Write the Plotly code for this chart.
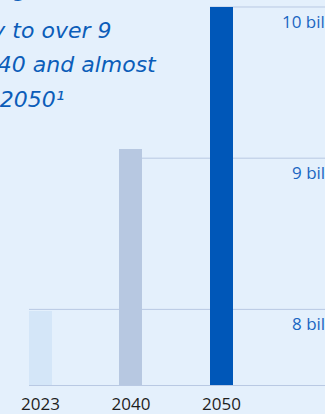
import plotly.graph_objects as go

# ---- data ----
years = ["2023", "2040", "2050"]
population_bn = [7.99, 9.06, 10.0]
gridline_values = [8, 9, 10]
gridline_labels = ["8 billion", "9 billion", "10 billion"]
gridline_start_year = ["2023", "2040", "2050"]
headline_lines = [
    "The world population is projected to grow from 8",
    "billion today to over 9",
    "billion by 2040 and almost",
    "10 billion by 2050¹",
]

# ---- style ----
W, H = 325, 414
ML, MR, MT, MB = 29, 0, 0, 29
BG = "#E4F0FC"
GRID = "#B9C9E3"
BAR_COLORS = ["#D4E6F8", "#B7C8E1", "#0057B8"]
TEXT_BLUE = "#0B5DB9"
LABEL_BLUE = "#1A66C2"
BAR_W = 0.254
X_RANGE = [-0.127, 3.144]
Y_RANGE = [7.5, 10.0463]


def px_x(x):
    return (x - ML) / (W - ML - MR)


def px_y(y):
    return (H - MB - y) / (H - MB - MT)


xpos = list(range(len(years)))

fig = go.Figure()
fig.add_trace(go.Bar(
    x=xpos, y=population_bn, width=BAR_W,
    marker=dict(color=BAR_COLORS, line=dict(width=0)),
    hoverinfo="skip",
))

# partial gridlines starting at the bar that reaches them
for val, yr in zip(gridline_values, gridline_start_year):
    i = years.index(yr)
    fig.add_shape(type="line", xref="x", yref="y",
                  x0=i - BAR_W / 2, x1=X_RANGE[1], y0=val, y1=val,
                  line=dict(color=GRID, width=1), layer="below")

# right-hand value labels (clipped at the edge)
for val, lab in zip(gridline_values, gridline_labels):
    fig.add_annotation(xref="paper", yref="y", x=px_x(355.5), y=val,
                       xanchor="right", yanchor="top", yshift=-1,
                       text=lab, showarrow=False,
                       font=dict(family="Open Sans", size=17, color=LABEL_BLUE))

# headline text, clipped at the left edge
line_ends = [150, 113, 159, 67]
line_centers = [-10.5, 30.3, 65, 99.7]
for txt, xe, yc in zip(headline_lines, line_ends, line_centers):
    fig.add_annotation(xref="paper", yref="paper", x=px_x(xe), y=px_y(yc),
                       xanchor="right", yanchor="middle",
                       text="<i>" + txt + "</i>", showarrow=False,
                       font=dict(family="DejaVu Sans", size=22, color=TEXT_BLUE))

fig.update_layout(
    width=W, height=H,
    margin=dict(l=ML, r=MR, t=MT, b=MB, pad=0),
    paper_bgcolor=BG, plot_bgcolor=BG,
    showlegend=False,
    bargap=0,
    xaxis=dict(range=X_RANGE, tickmode="array", tickvals=xpos, ticktext=years,
               showgrid=False, zeroline=False, showline=True,
               linecolor=GRID, linewidth=1, ticks="", ticklabelstandoff=4,
               tickfont=dict(family="Open Sans", size=17, color="#1E1E1E")),
    yaxis=dict(range=Y_RANGE, visible=False, showgrid=False, zeroline=False),
)

fig.write_html(
    "out.html",
    config={"displayModeBar": False},
    post_script=(
        "document.body.style.margin='0';"
        "document.body.style.padding='0';"
        "document.body.style.overflow='hidden';"
        "document.body.style.background='" + BG + "';"
    ),
)
